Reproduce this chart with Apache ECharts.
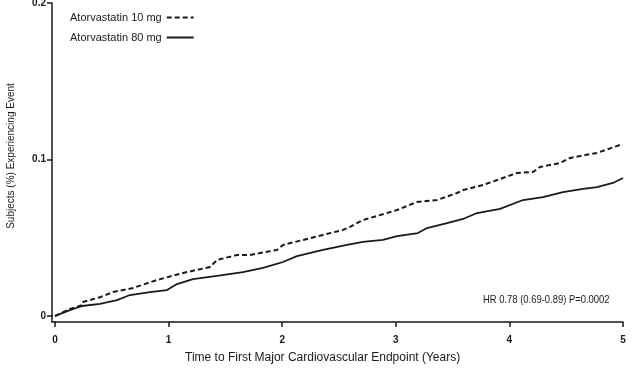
<!DOCTYPE html>
<html><head><meta charset="utf-8">
<script src="https://cdn.jsdelivr.net/npm/echarts@6/dist/echarts.min.js"></script>
<style>html,body{margin:0;padding:0;background:#fff}#c{width:638px;height:379px}</style>
</head><body><div id="c"></div>
<script>
const xTicks = [0, 1, 2, 3, 4, 5];
const yTicks = [0, 0.1, 0.2];
const seriesNames = ['Atorvastatin 10 mg', 'Atorvastatin 80 mg'];
const years10 = [0,0.018,0.132,0.238,0.246,0.396,0.511,0.687,0.898,1.127,1.364,1.426,1.602,1.717,1.954,2.007,2.183,2.359,2.535,2.597,2.711,3.011,3.187,3.363,3.539,3.592,3.768,4.067,4.208,4.269,4.445,4.533,4.771,4.974,5.0];
const values10 = [0,0.0006,0.0045,0.007,0.009,0.012,0.0153,0.0179,0.023,0.0275,0.0313,0.0358,0.039,0.039,0.0422,0.0454,0.0486,0.0518,0.055,0.057,0.0613,0.0677,0.0729,0.0741,0.0786,0.0805,0.0837,0.0914,0.092,0.0952,0.0978,0.101,0.1042,0.1093,0.1093];
const years80 = [0,0.018,0.132,0.238,0.396,0.546,0.66,0.836,0.986,1.074,1.215,1.426,1.655,1.831,2.007,2.13,2.359,2.57,2.711,2.887,3.011,3.195,3.275,3.451,3.592,3.715,3.917,4.12,4.296,4.472,4.648,4.771,4.912,5.0];
const values80 = [0,0.0006,0.0038,0.0064,0.0077,0.0102,0.0134,0.0153,0.0166,0.0204,0.0236,0.0256,0.0281,0.0307,0.0345,0.0383,0.0422,0.0454,0.0473,0.0486,0.0511,0.053,0.0562,0.0594,0.062,0.0658,0.0684,0.0741,0.076,0.0792,0.0812,0.0824,0.085,0.0882];
const annotation = 'HR 0.78 (0.69-0.89) P=0.0002';
const xName = 'Time to First Major Cardiovascular Endpoint (Years)';
const yName = 'Subjects (%) Experiencing Event';

const FONT = 'Liberation Sans, Arial, sans-serif';
const INK = '#1a1a1a';
const chart = echarts.init(document.getElementById('c'));
chart.setOption({
  animation: false,
  backgroundColor: '#fff',
  textStyle: { fontFamily: FONT, color: INK },
  grid: { left: 55, right: 15, top: 3, bottom: 63, outerBoundsMode: 'none', containLabel: false },
  legend: {
    orient: 'vertical', left: 70, top: 12, align: 'right', padding: 0,
    itemWidth: 27, itemHeight: 10, itemGap: 9,
    itemStyle: { opacity: 0 },
    textStyle: { fontFamily: FONT, fontSize: 11, color: INK },
    data: seriesNames
  },
  xAxis: {
    type: 'value', min: 0, max: 5, interval: 1, offset: 6,
    axisLine: { show: true, onZero: false, lineStyle: { color: INK, width: 1.5 } },
    axisTick: { show: true, length: 5, lineStyle: { color: INK, width: 1.5 } },
    axisLabel: { fontSize: 10, fontWeight: 'bold', color: INK, margin: 13, formatter: v => String(v) },
    splitLine: { show: false }
  },
  yAxis: {
    type: 'value', min: 0, max: 0.2, interval: 0.1, offset: 3,
    axisLine: { show: true, onZero: false, lineStyle: { color: INK, width: 1.5 } },
    axisTick: { show: true, length: 5, lineStyle: { color: INK, width: 1.5 } },
    axisLabel: { fontSize: 10, fontWeight: 'bold', color: INK, margin: 6, formatter: v => String(v) },
    splitLine: { show: false }
  },
  graphic: [
    { type: 'line', shape: { x1: 52, y1: 315, x2: 52, y2: 322 }, style: { stroke: INK, lineWidth: 1.5 } },
    { type: 'line', shape: { x1: 51.25, y1: 322, x2: 56, y2: 322 }, style: { stroke: INK, lineWidth: 1.5 } },
    { type: 'text', x: 483, y: 294, scaleX: 0.82,
      style: { text: annotation, fontFamily: FONT, fontSize: 11.5, fill: INK } },
    { type: 'text', left: 185, top: 352,
      style: { text: xName, fontFamily: FONT, fontSize: 12, fill: INK } },
    { type: 'text', x: 11, y: 156, rotation: Math.PI / 2,
      style: { text: yName, fontFamily: FONT, fontSize: 10, fill: INK, align: 'center', verticalAlign: 'middle' } }
  ],
  series: [
    {
      name: seriesNames[0], type: 'line', symbol: 'none',
      data: years10.map((x, i) => [x, values10[i]]),
      lineStyle: { color: INK, width: 2, type: [5, 3] },
      itemStyle: { color: INK }
    },
    {
      name: seriesNames[1], type: 'line', symbol: 'none',
      data: years80.map((x, i) => [x, values80[i]]),
      lineStyle: { color: INK, width: 1.8, type: 'solid' },
      itemStyle: { color: INK }
    }
  ]
});
</script></body></html>
